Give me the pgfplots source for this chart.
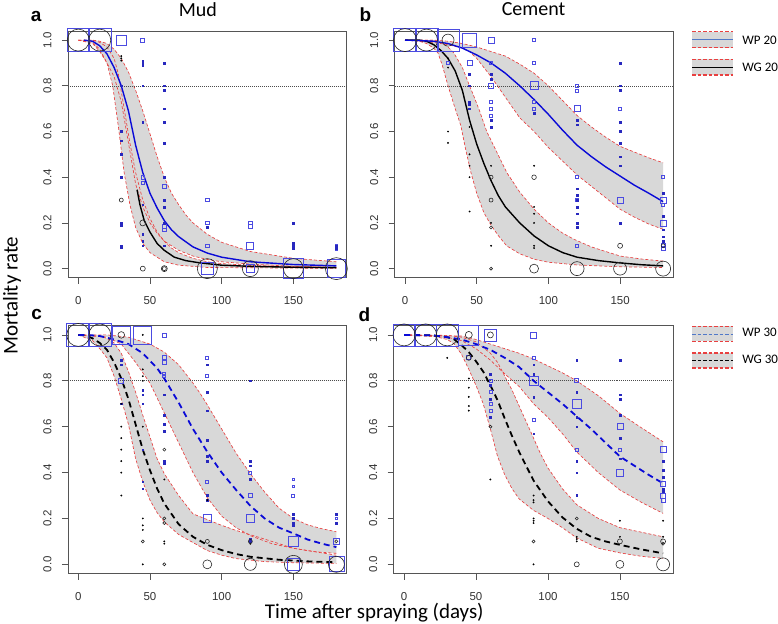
\documentclass[border=0pt]{standalone}
\usepackage{pgfplots}
\pgfplotsset{compat=1.18}
\usepgfplotslibrary{fillbetween}
\usepackage{fontspec}
\setmainfont{Liberation Sans}
\newfontfamily\calibri{Carlito}
\definecolor{wpblue}{RGB}{75,75,225}
\definecolor{dotblue}{RGB}{40,40,190}
\definecolor{linblue}{RGB}{10,10,215}
\definecolor{bandred}{RGB}{232,64,64}
\definecolor{bandgray}{RGB}{216,216,216}
\definecolor{boxgray}{RGB}{85,85,85}
\definecolor{legblue}{RGB}{80,120,200}
\pgfplotsset{
 panel/.style={
   scale only axis, width=279pt, height=247pt,
   xmin=-7.2, xmax=187.2, ymin=-0.04, ymax=1.04,
   xtick={0,50,100,150}, ytick={0,0.2,0.4,0.6,0.8,1.0},
   tick pos=left, tick align=outside, major tick length=6pt,
   axis line style={boxgray, line width=0.8pt},
   tick style={boxgray, line width=0.8pt},
   /pgf/number format/assume math mode=true,
   tick label style={font=\fontsize{11.5}{13}\selectfont, text=black!80},
   xticklabel style={yshift=-9pt},
   yticklabel style={/pgf/number format/fixed, /pgf/number format/fixed zerofill, /pgf/number format/precision=1, xshift=-7pt, rotate=90, anchor=south},
   clip=false, set layers,
 },
 sqm/.style={only marks, mark=square, mark size=#1, wpblue, mark options={line width=0.75pt, draw=wpblue, fill=none}},
 cim/.style={only marks, mark=o, mark size=#1, black!85, mark options={line width=0.6pt, draw=black!85, fill=none}},
 bdot/.style={only marks, mark=square*, mark size=0.85pt, dotblue},
 kdot/.style={only marks, mark=*, mark size=0.7pt, black},
 bandline/.style={bandred, dash pattern=on 3pt off 2pt, line width=0.65pt},
 wpfit/.style={linblue, line width=1.4pt},
 wgfit/.style={black, line width=1.4pt},
 wpfitd/.style={linblue, line width=1.8pt, dash pattern=on 6pt off 4pt},
 wgfitd/.style={black, line width=1.8pt, dash pattern=on 6pt off 4pt},
 refline/.style={black!70, line width=0.6pt, dash pattern=on 0.8pt off 1.2pt},
}
\begin{document}
\begin{tikzpicture}
\path (0,0) rectangle (778pt,624pt);

% ---------------- panel a ----------------
\begin{axis}[panel, at={(68pt,346pt)}, anchor=south west]
\addplot[bandline, name path=wpU] coordinates {(0,1)(10,1)(15,0.995)(20,0.985)(25,0.96)(30,0.92)(35,0.86)(40,0.78)(45,0.69)(50,0.59)(55,0.49)(60,0.40)(65,0.33)(70,0.28)(75,0.235)(80,0.2)(90,0.15)(100,0.115)(120,0.075)(150,0.045)(180,0.03)};
\addplot[bandline, name path=wpL] coordinates {(0,1)(10,0.985)(15,0.95)(20,0.9)(25,0.84)(30,0.73)(35,0.55)(40,0.37)(45,0.27)(50,0.2)(55,0.155)(60,0.12)(70,0.08)(80,0.055)(90,0.04)(100,0.03)(120,0.02)(150,0.01)(180,0.005)};
\addplot[bandgray] fill between[of=wpU and wpL];
\addplot[bandline, name path=wgU] coordinates {(0,1)(10,1.0)(15,0.99)(20,0.97)(25,0.92)(28,0.85)(32,0.7)(36,0.55)(40,0.42)(45,0.3)(50,0.22)(55,0.16)(60,0.12)(65,0.09)(70,0.07)(80,0.045)(90,0.03)(100,0.022)(120,0.014)(150,0.009)(180,0.006)};
\addplot[bandline, name path=wgL] coordinates {(0,1)(10,0.99)(15,0.96)(20,0.9)(24,0.8)(28,0.62)(32,0.42)(36,0.28)(40,0.18)(45,0.11)(50,0.07)(60,0.03)(70,0.015)(90,0.005)(180,0.001)};
\addplot[bandgray] fill between[of=wgU and wgL];
\addplot[sqm=11.3] coordinates {(0,1)(15,1)};
\addplot[sqm=5] coordinates {(30,1)};
\addplot[sqm=2] coordinates {(45,1)};
\addplot[sqm=1.8] coordinates {(45,0.4)(45,0.375)(60,0.36)(60,0.185)(60,0.17)(90,0.3)(90,0.2)(90,0.1)(120,0.2)(120,0.185)};
\addplot[sqm=6] coordinates {(90,0)};
\addplot[sqm=3.5] coordinates {(120,0.1)};
\addplot[sqm=4] coordinates {(120,0)};
\addplot[sqm=10] coordinates {(150,0)};
\addplot[sqm=1.2] coordinates {(180,0.1)(180,0.085)};
\addplot[sqm=9] coordinates {(180,0)};
\addplot[bdot] coordinates {(30,0.8)(30,0.6)(30,0.56)(30,0.5)(30,0.4)(30,0.2)(30,0.19)(30,0.1)(30,0.095)(45,0.91)(45,0.9)(45,0.89)(45,0.8)(45,0.64)(45,0.28)(45,0.15)(45,0.12)(45,0.1)(60,0.9)(60,0.8)(60,0.78)(60,0.7)(60,0.64)(60,0.55)(60,0.4)(60,0.3)(60,0.27)(60,0.2)(60,0.1)(90,0.18)(150,0.2)(150,0.11)(150,0.1)(150,0.09)(180,0.1)(180,0.09)};
\addplot[kdot] coordinates {(30,0.93)(30,0.92)(30,0.91)};
\addplot[cim=11] coordinates {(0,1)(15,1)(180,0)};
\addplot[cim=2] coordinates {(30,0.3)(60,0)};
\addplot[cim=3] coordinates {(45,0.2)(60,0)};
\addplot[cim=2.5] coordinates {(45,0)};
\addplot[cim=10] coordinates {(90,0)(150,0)};
\addplot[cim=8] coordinates {(120,0)};
\addplot[refline] coordinates {(-7.2,0.8)(187.2,0.8)};
\addplot[wgfit] coordinates {(41,0.345)(43,0.28)(46,0.21)(50,0.16)(55,0.11)(60,0.08)(67,0.05)(75,0.035)(85,0.025)(100,0.015)(120,0.01)(150,0.006)(180,0.004)};
\addplot[wpfit] coordinates {(4,1.0)(10,0.995)(15,0.975)(20,0.94)(25,0.88)(30,0.8)(35,0.69)(40,0.54)(45,0.42)(50,0.33)(55,0.265)(60,0.21)(65,0.17)(70,0.14)(80,0.095)(90,0.068)(100,0.05)(120,0.03)(150,0.018)(180,0.012)};
\end{axis}

% ---------------- panel b ----------------
\begin{axis}[panel, at={(395pt,346pt)}, anchor=south west]
\addplot[bandline, name path=wpU] coordinates {(0,1.0)(20,1.0)(30,0.995)(40,0.985)(50,0.97)(60,0.95)(70,0.93)(80,0.895)(90,0.855)(100,0.8)(110,0.735)(120,0.67)(130,0.62)(140,0.575)(150,0.535)(160,0.51)(170,0.485)(180,0.463)};
\addplot[bandline, name path=wpL] coordinates {(0,1.0)(20,0.99)(30,0.98)(40,0.965)(45,0.95)(50,0.92)(55,0.88)(60,0.84)(70,0.75)(80,0.66)(90,0.6)(100,0.53)(110,0.47)(120,0.41)(130,0.36)(140,0.31)(150,0.26)(160,0.225)(170,0.195)(180,0.172)};
\addplot[bandgray] fill between[of=wpU and wpL];
\addplot[bandline, name path=wgU] coordinates {(0,1)(20,1.0)(25,0.99)(30,0.97)(34,0.944)(40,0.88)(45,0.8)(48,0.755)(52,0.69)(57,0.6)(64,0.51)(71,0.42)(80,0.335)(90,0.26)(100,0.2)(110,0.155)(118,0.128)(130,0.095)(150,0.055)(165,0.042)(180,0.033)};
\addplot[bandline, name path=wgL] coordinates {(0,1)(10,0.995)(15,0.985)(20,0.965)(23,0.944)(26,0.89)(30,0.8)(35,0.7)(39,0.624)(42,0.53)(46,0.42)(50,0.33)(55,0.245)(60,0.19)(65,0.145)(71,0.099)(80,0.065)(90,0.041)(100,0.028)(120,0.016)(150,0.008)(180,0.005)};
\addplot[bandgray] fill between[of=wgU and wgL];
\addplot[sqm=11.5] coordinates {(0,1)(15,1)};
\addplot[sqm=11] coordinates {(30,1)};
\addplot[sqm=7] coordinates {(45,1)};
\addplot[sqm=3] coordinates {(60,1)(120,0.7)(150,0.3)(180,0.3)(180,0.2)};
\addplot[sqm=1.5] coordinates {(90,1)(30,0.9)(60,0.9)(60,0.73)(60,0.7)(60,0.67)(90,0.9)(90,0.73)(90,0.7)(120,0.8)(120,0.78)(120,0.4)(120,0.3)(120,0.1)(150,0.7)(180,0.4)(180,0.28)};
\addplot[sqm=2.5] coordinates {(45,0.9)(60,0.8)};
\addplot[sqm=4] coordinates {(90,0.8)};
\addplot[sqm=2] coordinates {(180,0.1)(180,0.09)};
\addplot[bdot] coordinates {(45,0.85)(45,0.8)(45,0.73)(45,0.72)(45,0.7)(60,0.85)(60,0.83)(60,0.65)(60,0.62)(90,0.68)(120,0.65)(120,0.63)(120,0.35)(120,0.32)(120,0.3)(120,0.27)(120,0.24)(120,0.2)(120,0.18)(150,0.9)(150,0.8)(150,0.78)(150,0.64)(150,0.6)(150,0.55)(150,0.49)(150,0.45)(150,0.2)(180,0.33)(180,0.23)(180,0.17)(180,0.14)(180,0.12)};
\addplot[kdot] coordinates {(30,0.92)(30,0.88)(30,0.6)(30,0.55)(45,0.62)(45,0.5)(45,0.45)(45,0.4)(45,0.25)(60,0.45)(60,0.2)(60,0.1)(90,0.45)(90,0.27)(90,0.24)(90,0.2)(90,0.1)(90,0.09)};
\addplot[cim=11.5] coordinates {(0,1)};
\addplot[cim=11] coordinates {(15,1)};
\addplot[cim=6] coordinates {(30,1)};
\addplot[cim=2] coordinates {(60,0.4)(60,0.3)(180,0.1)};
\addplot[cim=1.5] coordinates {(60,0.18)(60,0)};
\addplot[cim=2.3] coordinates {(90,0.4)};
\addplot[cim=4.5] coordinates {(90,0)};
\addplot[cim=7] coordinates {(120,0)};
\addplot[cim=2.5] coordinates {(150,0.1)};
\addplot[cim=6.5] coordinates {(150,0)};
\addplot[cim=7.5] coordinates {(180,0)};
\addplot[refline] coordinates {(-7.2,0.8)(187.2,0.8)};
\addplot[wgfit] coordinates {(0,1)(10,1.0)(15,0.995)(20,0.98)(25,0.955)(30,0.92)(35,0.865)(40,0.78)(45,0.65)(50,0.545)(55,0.46)(60,0.385)(65,0.32)(70,0.27)(75,0.235)(80,0.2)(90,0.143)(100,0.1)(110,0.07)(120,0.05)(135,0.035)(150,0.025)(165,0.017)(180,0.012)};
\addplot[wpfit] coordinates {(0,1.0)(10,0.998)(20,0.995)(30,0.985)(40,0.965)(50,0.935)(60,0.90)(70,0.855)(80,0.80)(90,0.74)(100,0.675)(110,0.605)(120,0.54)(130,0.49)(140,0.445)(150,0.405)(160,0.365)(170,0.33)(180,0.293)};
\end{axis}

% ---------------- panel c ----------------
\begin{axis}[panel, height=248pt, at={(68pt,50pt)}, anchor=south west]
\addplot[bandline, name path=wpU] coordinates {(0,1)(20,1.0)(35,0.99)(50,0.96)(60,0.925)(70,0.87)(80,0.79)(85,0.745)(90,0.695)(100,0.59)(110,0.485)(120,0.395)(130,0.315)(140,0.245)(150,0.2)(160,0.172)(170,0.155)(180,0.142)};
\addplot[bandline, name path=wpL] coordinates {(0,1)(20,0.99)(30,0.96)(40,0.88)(50,0.79)(60,0.66)(70,0.53)(80,0.40)(90,0.29)(100,0.21)(110,0.16)(120,0.125)(135,0.09)(150,0.07)(165,0.055)(180,0.048)};
\addplot[bandgray] fill between[of=wpU and wpL];
\addplot[bandline, name path=wgU] coordinates {(0,1)(15,0.995)(20,0.985)(25,0.965)(30,0.92)(35,0.84)(40,0.75)(45,0.65)(50,0.555)(55,0.46)(60,0.395)(70,0.30)(80,0.22)(90,0.195)(100,0.17)(110,0.148)(130,0.11)(150,0.07)(165,0.055)(180,0.04)};
\addplot[bandline, name path=wgL] coordinates {(0,1)(10,0.975)(15,0.94)(20,0.9)(25,0.82)(30,0.72)(35,0.61)(40,0.46)(45,0.36)(50,0.28)(55,0.225)(60,0.185)(70,0.13)(80,0.095)(90,0.06)(100,0.04)(110,0.025)(130,0.012)(150,0.007)(180,0.004)};
\addplot[bandgray] fill between[of=wgU and wgL];
\addplot[sqm=11.5] coordinates {(0,1)(15,1)};
\addplot[sqm=9] coordinates {(30,1)(45,1)};
\addplot[sqm=2] coordinates {(60,1)(60,0.9)(60,0.88)(120,0.3)};
\addplot[sqm=1.5] coordinates {(60,0.83)(60,0.82)(90,0.9)(90,0.82)(90,0.36)(120,0.4)(150,0.3)};
\addplot[sqm=2.5] coordinates {(30,0.8)};
\addplot[sqm=4] coordinates {(90,0.2)(120,0.2)};
\addplot[sqm=1.2] coordinates {(150,0.37)(150,0.34)(180,0.2)};
\addplot[sqm=5] coordinates {(150,0.1)};
\addplot[sqm=6] coordinates {(150,0)};
\addplot[sqm=3] coordinates {(180,0.1)};
\addplot[sqm=7.5] coordinates {(180,0)};
\addplot[bdot] coordinates {(30,0.89)(30,0.87)(30,0.7)(45,0.76)(45,0.74)(45,0.7)(45,0.5)(45,0.36)(45,0.33)(60,0.74)(60,0.65)(60,0.61)(60,0.58)(60,0.45)(60,0.44)(90,0.87)(90,0.75)(90,0.67)(90,0.54)(90,0.47)(90,0.45)(90,0.3)(90,0.28)(120,0.8)(120,0.45)(120,0.43)(120,0.37)(120,0.11)(120,0.1)(150,0.22)(150,0.2)(150,0.18)(150,0.17)(180,0.22)(180,0.18)};
\addplot[kdot] coordinates {(45,1.0)(30,0.7)(30,0.6)(30,0.55)(30,0.5)(30,0.45)(30,0.4)(30,0.3)(45,0.85)(45,0.82)(45,0.8)(45,0.6)(45,0.2)(45,0.17)(45,0.15)(45,0.0)(60,0.37)(60,0.1)(60,0.09)(90,0.28)(120,0.09)};
\addplot[cim=11.5] coordinates {(0,1)};
\addplot[cim=11] coordinates {(15,1)};
\addplot[cim=3.3] coordinates {(30,1)};
\addplot[cim=1.5] coordinates {(45,0.1)(60,0.5)(60,0.2)(60,0.18)(60,0)(180,0.1)};
\addplot[cim=2] coordinates {(90,0.1)(120,0.1)};
\addplot[cim=4.5] coordinates {(90,0)};
\addplot[cim=6] coordinates {(120,0)};
\addplot[cim=9] coordinates {(150,0)};
\addplot[cim=8] coordinates {(180,0)};
\addplot[refline] coordinates {(-7.2,0.8)(187.2,0.8)};
\addplot[wgfitd] coordinates {(0,1)(5,0.998)(10,0.985)(15,0.965)(20,0.935)(25,0.88)(30,0.81)(35,0.72)(40,0.61)(45,0.50)(50,0.41)(55,0.33)(60,0.265)(70,0.175)(80,0.12)(90,0.085)(100,0.062)(110,0.045)(120,0.033)(140,0.02)(160,0.013)(180,0.009)};
\addplot[wpfitd] coordinates {(0,1)(10,0.998)(15,0.995)(25,0.98)(35,0.96)(45,0.92)(55,0.855)(60,0.81)(70,0.705)(80,0.59)(90,0.49)(100,0.40)(110,0.325)(120,0.255)(130,0.20)(140,0.16)(150,0.135)(160,0.108)(170,0.09)(180,0.075)};
\end{axis}

% ---------------- panel d ----------------
\begin{axis}[panel, width=280pt, height=248pt, at={(394pt,50pt)}, anchor=south west]
\addplot[bandline, name path=wpU] coordinates {(0,1)(40,0.995)(50,0.98)(60,0.96)(70,0.94)(80,0.92)(90,0.895)(100,0.865)(110,0.835)(120,0.80)(135,0.735)(150,0.658)(165,0.595)(180,0.534)};
\addplot[bandline, name path=wpL] coordinates {(0,1)(30,0.99)(40,0.975)(50,0.94)(60,0.89)(70,0.83)(80,0.775)(90,0.70)(100,0.64)(110,0.57)(120,0.49)(135,0.40)(150,0.324)(165,0.27)(180,0.222)};
\addplot[bandgray] fill between[of=wpU and wpL];
\addplot[bandline, name path=wgU] coordinates {(0,1)(30,0.998)(40,0.99)(50,0.97)(60,0.92)(65,0.88)(70,0.82)(75,0.76)(80,0.69)(85,0.62)(90,0.55)(95,0.48)(100,0.42)(110,0.33)(120,0.26)(135,0.2)(150,0.16)(165,0.14)(180,0.12)};
\addplot[bandline, name path=wgL] coordinates {(0,1)(20,0.995)(30,0.98)(35,0.96)(40,0.915)(45,0.85)(50,0.78)(55,0.70)(60,0.59)(65,0.47)(70,0.39)(75,0.33)(80,0.285)(90,0.235)(100,0.2)(110,0.16)(120,0.115)(135,0.07)(150,0.05)(165,0.035)(180,0.026)};
\addplot[bandgray] fill between[of=wgU and wgL];
\addplot[sqm=11] coordinates {(0,1)(15,1)(30,1)};
\addplot[sqm=10] coordinates {(45,1)};
\addplot[sqm=6] coordinates {(60,1)};
\addplot[sqm=3] coordinates {(90,1)(150,0.6)(180,0.5)};
\addplot[sqm=2] coordinates {(45,0.9)(120,0.8)(180,0.28)};
\addplot[sqm=1.5] coordinates {(60,0.8)(60,0.75)(60,0.7)(60,0.67)(90,0.9)(90,0.63)(120,0.5)(150,0.5)};
\addplot[sqm=4.5] coordinates {(90,0.8)(120,0.7)};
\addplot[sqm=3.5] coordinates {(150,0.4)};
\addplot[sqm=2.5] coordinates {(180,0.35)(180,0.3)};
\addplot[bdot] coordinates {(60,0.83)(60,0.78)(60,0.72)(60,0.64)(90,0.87)(90,0.83)(90,0.73)(90,0.57)(120,0.89)(120,0.75)(120,0.64)(120,0.6)(120,0.45)(120,0.4)(120,0.3)(150,0.89)(150,0.74)(150,0.72)(150,0.65)(150,0.55)(150,0.46)(180,0.45)(180,0.41)(180,0.38)(180,0.33)(180,0.32)};
\addplot[kdot] coordinates {(30,0.9)(45,0.81)(45,0.77)(45,0.73)(45,0.69)(45,0.67)(60,0.37)(90,0.3)(90,0.28)(90,0.27)(90,0.2)(90,0.19)(90,0.18)(90,0.0)(120,0.12)(120,0.11)(120,0.1)(150,0.19)(150,0.12)(180,0.19)(180,0.12)};
\addplot[cim=11] coordinates {(0,1)(15,1)(30,1)};
\addplot[cim=3.5] coordinates {(45,1)};
\addplot[cim=3] coordinates {(60,1)};
\addplot[cim=2.5] coordinates {(45,0.9)(120,0)(150,0.1)(180,0.1)};
\addplot[cim=1.5] coordinates {(60,0.6)(90,0.1)(120,0.2)(180,0.09)};
\addplot[cim=4] coordinates {(150,0)};
\addplot[cim=6.5] coordinates {(180,0)};
\addplot[refline] coordinates {(-7.2,0.8)(187.2,0.8)};
\addplot[wgfitd] coordinates {(0,1)(20,0.998)(30,0.99)(35,0.98)(40,0.955)(45,0.925)(50,0.885)(55,0.84)(60,0.78)(65,0.715)(70,0.635)(75,0.56)(80,0.49)(90,0.365)(100,0.275)(110,0.205)(120,0.155)(130,0.12)(140,0.1)(150,0.085)(165,0.065)(180,0.048)};
\addplot[wpfitd] coordinates {(0,1)(20,0.998)(30,0.99)(40,0.98)(50,0.96)(60,0.935)(70,0.90)(80,0.86)(90,0.80)(100,0.75)(110,0.70)(120,0.645)(130,0.59)(140,0.53)(150,0.47)(160,0.43)(170,0.39)(180,0.353)};
\end{axis}

% ---------------- text ----------------
\node[font=\bfseries\fontsize{19}{20}\selectfont, inner sep=0] at (36.2pt,607.3pt) {a};
\node[font=\bfseries\fontsize{19}{20}\selectfont, inner sep=0] at (365.7pt,609pt) {b};
\node[font=\bfseries\fontsize{19}{20}\selectfont, inner sep=0] at (36.7pt,309pt) {c};
\node[font=\bfseries\fontsize{19}{20}\selectfont, inner sep=0] at (364.8pt,309.5pt) {d};
\node[font=\calibri\fontsize{20}{22}\selectfont, inner sep=0] at (198pt,614.5pt) {Mud};
\node[font=\calibri\fontsize{20}{22}\selectfont, inner sep=0] at (534pt,614.5pt) {Cement};
\node[font=\calibri\fontsize{21}{23}\selectfont, inner sep=0, rotate=90] at (12pt,328pt) {Mortality rate};
\node[font=\calibri\fontsize{21}{23}\selectfont, inner sep=0, anchor=base] at (374.5pt,5pt) {Time after spraying (days)};

% ---------------- legends ----------------
\fill[bandgray] (692.7pt,576.3pt) rectangle (733.3pt,592.3pt);
\draw[bandred, dash pattern=on 3.5pt off 2pt, line width=1.3pt] (692.7pt,592.3pt) -- (733.3pt,592.3pt);
\draw[bandred, dash pattern=on 3.5pt off 2pt, line width=1.3pt] (692.7pt,576.3pt) -- (733.3pt,576.3pt);
\draw[legblue, line width=0.8pt] (692.7pt,584.3pt) -- (733.3pt,584.3pt);
\node[font=\calibri\fontsize{13}{14}\selectfont, inner sep=0, anchor=west] at (742.7pt,583.5pt) {WP 20};

\fill[bandgray] (692.7pt,549pt) rectangle (733.3pt,564.7pt);
\draw[bandred, dash pattern=on 3.5pt off 2pt, line width=1.3pt] (692.7pt,564.7pt) -- (733.3pt,564.7pt);
\draw[bandred, dash pattern=on 3.5pt off 2pt, line width=1.3pt] (692.7pt,549pt) -- (733.3pt,549pt);
\draw[black, line width=0.8pt] (692.7pt,556.8pt) -- (733.3pt,556.8pt);
\node[font=\calibri\fontsize{13}{14}\selectfont, inner sep=0, anchor=west] at (742.7pt,556.2pt) {WG 20};

\fill[bandgray] (692.7pt,282.3pt) rectangle (733.3pt,297.3pt);
\draw[bandred, dash pattern=on 3.5pt off 2pt, line width=1.3pt] (692.7pt,297.3pt) -- (733.3pt,297.3pt);
\draw[bandred, dash pattern=on 3.5pt off 2pt, line width=1.3pt] (692.7pt,282.3pt) -- (733.3pt,282.3pt);
\draw[legblue, line width=0.8pt, dash pattern=on 3.5pt off 2pt] (692.7pt,289.8pt) -- (733.3pt,289.8pt);
\node[font=\calibri\fontsize{13}{14}\selectfont, inner sep=0, anchor=west] at (742.7pt,291.2pt) {WP 30};

\fill[bandgray] (692.7pt,255.7pt) rectangle (733.3pt,270.7pt);
\draw[bandred, dash pattern=on 3.5pt off 2pt, line width=1.3pt] (692.7pt,270.7pt) -- (733.3pt,270.7pt);
\draw[bandred, dash pattern=on 3.5pt off 2pt, line width=1.3pt] (692.7pt,255.7pt) -- (733.3pt,255.7pt);
\draw[black, line width=0.8pt, dash pattern=on 3.5pt off 2pt] (692.7pt,263.2pt) -- (733.3pt,263.2pt);
\node[font=\calibri\fontsize{13}{14}\selectfont, inner sep=0, anchor=west] at (742.7pt,264.5pt) {WG 30};
\end{tikzpicture}
\end{document}
